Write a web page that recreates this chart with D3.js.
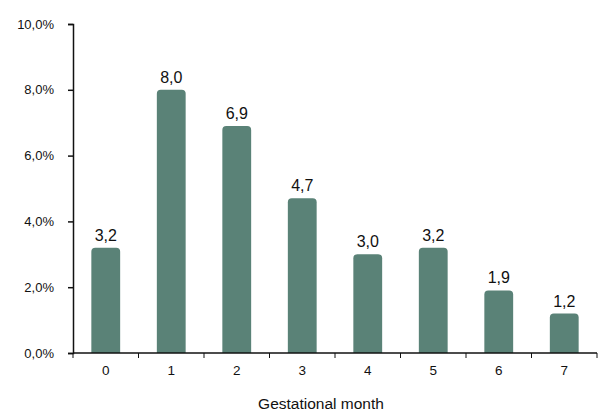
<!DOCTYPE html>
<html>
<head>
<meta charset="utf-8">
<script src="https://cdn.jsdelivr.net/npm/d3@7"></script>
<style>
  body { margin: 0; background: #fff; }
  text { font-family: "Liberation Sans", Arial, sans-serif; fill: #111; }
</style>
</head>
<body>
<svg id="chart" width="600" height="419"></svg>
<script>
let months = ["0", "1", "2", "3", "4", "5", "6", "7"];
let values = [3.2, 8.0, 6.9, 4.7, 3.0, 3.2, 1.9, 1.2];
let yTicks = [0, 2, 4, 6, 8, 10];

let svg = d3.select("#chart");
let margin = {top: 24, right: 3, bottom: 66, left: 73};
let width = 600 - margin.right, height = 419 - margin.bottom;

let fmt = v => d3.format(".1f")(v).replace(".", ",");

let xScale = d3.scaleBand()
  .domain(months)
  .range([margin.left, width])
  .paddingInner(0.56)
  .paddingOuter(0.28);

let yScale = d3.scaleLinear()
  .domain([0, 10])
  .range([height, margin.top]);

// bars with rounded top corners
let r = 4;
svg.append("g")
  .selectAll("path")
  .data(values)
  .join("path")
  .attr("fill", "#5a8277")
  .attr("d", (d, i) => {
    let x0 = xScale(months[i]), x1 = x0 + xScale.bandwidth();
    let y0 = yScale(d), y1 = yScale(0);
    return `M${x0},${y1}V${y0 + r}Q${x0},${y0} ${x0 + r},${y0}H${x1 - r}Q${x1},${y0} ${x1},${y0 + r}V${y1}Z`;
  });

// value labels
svg.append("g")
  .selectAll("text")
  .data(values)
  .join("text")
  .attr("x", (d, i) => xScale(months[i]) + xScale.bandwidth() / 2)
  .attr("y", d => yScale(d) - 7)
  .attr("text-anchor", "middle")
  .attr("font-size", 16)
  .text(d => fmt(d));

// y axis
let yAxis = svg.append("g")
  .attr("transform", `translate(${margin.left},0)`)
  .call(d3.axisLeft(yScale).tickValues(yTicks).tickSize(5).tickPadding(14)
    .tickFormat(d => fmt(d) + "%"));
yAxis.selectAll("text").attr("font-size", 13).style("font-family", "'Liberation Sans', Arial, sans-serif");

// x axis: line plus ticks at band boundaries
let xAxis = svg.append("g")
  .attr("transform", `translate(0,${height})`)
  .call(d3.axisBottom(xScale).tickSize(0).tickPadding(12));
xAxis.select(".domain").attr("d", `M${margin.left},0H${width}`);
xAxis.selectAll("text").attr("font-size", 13.5).style("font-family", "'Liberation Sans', Arial, sans-serif");

let bounds = d3.range(months.length + 1).map(i => margin.left + i * (width - margin.left) / months.length);
xAxis.selectAll(".bound")
  .data(bounds)
  .join("line")
  .attr("class", "bound")
  .attr("x1", d => d).attr("x2", d => d)
  .attr("y1", 0).attr("y2", 5)
  .attr("stroke", "#111");

svg.selectAll(".domain, .tick line").attr("stroke", "#111").attr("stroke-width", 1.5);

// axis title
svg.append("text")
  .attr("x", 321)
  .attr("y", 409)
  .attr("text-anchor", "middle")
  .attr("font-size", 15.5)
  .text("Gestational month");
</script>
</body>
</html>
